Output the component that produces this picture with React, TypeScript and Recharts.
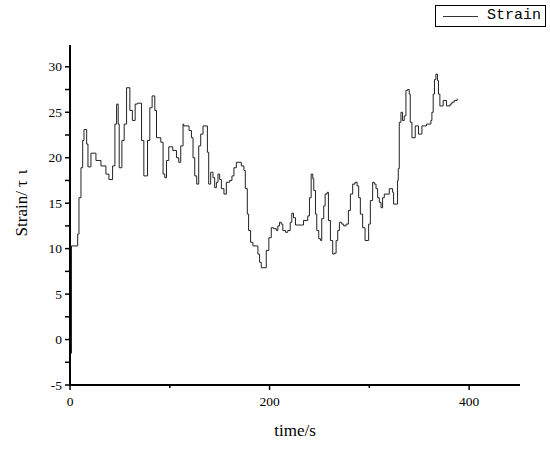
import React from 'react';
import { LineChart, Line, XAxis, YAxis } from 'recharts';

const times: number[] = [
  0, 1.5, 7.7, 9, 11, 12.7, 14, 16.7, 18, 21, 26, 31, 36, 39, 42.7, 45, 46.7, 48.3, 49.3, 52,
  54.3, 56.7, 60, 62.5, 65.3, 67.5, 71.7, 74, 77.7, 80, 82.3, 85, 86.7, 91, 93.3, 95, 96.7, 99, 103, 106.7,
  109, 111, 113.3, 114, 119.3, 121.7, 123.3, 125, 127, 129, 131, 133.3, 137.7, 139, 141, 143.3, 145, 146.7, 148.3, 150,
  151.7, 154.3, 156.7, 160, 162.3, 164.3, 166.7, 171.7, 174.3, 175.7, 177.7, 179, 181, 183.3, 186.7, 188.3, 190, 191.7, 196.7, 199.3,
  201.7, 204, 206.7, 208.3, 210, 211.7, 213.3, 216, 218.3, 220.7, 222.3, 224, 226, 231.7, 234, 238.3, 240, 241.7, 243.3, 244.3,
  246, 247.3, 249.3, 251, 252.3, 254.3, 255.7, 257.7, 259, 261, 263.3, 265, 266.7, 268.3, 270, 272.3, 274.3, 276.7, 279, 281,
  283.3, 285.7, 287.7, 289.3, 291, 293.3, 295.7, 299.3, 301, 303.3, 305, 306.7, 308.3, 310, 311.7, 313.3, 315, 320, 323.3, 324.3,
  328.3, 329, 330, 331.7, 333.3, 335, 336.7, 338.3, 340, 341, 342.7, 346, 349.3, 352.7, 357.3, 361.7, 362.7, 364, 365.3, 366.7,
  368.3, 369.3, 370.7, 374, 377.3, 381, 382.7, 385, 388,
];

const strain: number[] = [
  -1.5, 10.3, 11.6, 15.6, 18.9, 21.9, 23.1, 21.5, 19.0, 20.5, 19.7, 19.1, 18.2, 17.6, 19.1, 23.7, 25.9, 23.7, 18.9, 21.9,
  23.7, 27.7, 25.2, 24.1, 25.9, 26.0, 21.9, 18.0, 21.9, 25.5, 26.8, 25.2, 22.2, 21.7, 18.2, 17.8, 19.7, 21.2, 20.8, 20.0,
  19.5, 21.3, 23.7, 23.5, 23.0, 22.2, 20.0, 18.0, 17.1, 21.3, 22.6, 23.5, 20.6, 17.1, 18.4, 17.8, 16.7, 17.3, 18.2, 17.6,
  16.6, 16.0, 17.3, 17.5, 18.0, 18.9, 19.5, 19.1, 18.6, 16.6, 13.8, 12.0, 10.7, 10.3, 10.3, 9.4, 8.5, 7.9, 9.8, 11.2,
  12.3, 12.2, 12.0, 12.5, 12.9, 12.7, 12.0, 11.8, 12.0, 12.9, 13.9, 13.4, 12.6, 12.6, 13.1, 13.6, 15.6, 18.2, 17.7, 16.4,
  13.8, 12.0, 11.1, 10.9, 13.3, 14.7, 16.0, 16.2, 13.1, 10.9, 9.4, 9.5, 10.9, 12.0, 12.9, 12.7, 12.5, 12.7, 14.2, 16.0,
  17.1, 17.3, 16.9, 15.6, 13.8, 12.3, 10.9, 12.7, 15.3, 17.3, 17.1, 16.6, 15.6, 15.1, 14.5, 15.6, 16.0, 16.6, 16.2, 14.9,
  17.5, 18.8, 23.9, 25.0, 24.1, 24.6, 27.4, 27.5, 27.0, 23.9, 22.2, 23.5, 22.6, 23.5, 23.7, 24.1, 25.0, 27.0, 28.6, 29.2,
  28.5, 27.0, 25.7, 26.3, 25.7, 25.9, 26.1, 26.3, 26.5,
];

const xTicks: number[] = [0, 100, 200, 300, 400];
const xLabeled: number[] = [0, 200, 400];
const yTicks: number[] = [-5, -2.5, 0, 2.5, 5, 7.5, 10, 12.5, 15, 17.5, 20, 22.5, 25, 27.5, 30];
const yLabeled: number[] = [-5, 0, 5, 10, 15, 20, 25, 30];

const seriesName = 'Strain';
const xTitle = 'time/s';
const yTitleLatin = 'Strain/';
const yTitleGreek: string[] = ['\u03c4', '\u03b9'];

const data = times.map((t, i) => ({ t, v: strain[i] }));

const TICK_SIZE = 5;
const TICK_MARGIN = 4;
const FONT = "'Liberation Serif', 'Times New Roman', serif";
const textStyle: React.CSSProperties = { fontFamily: FONT };

const XTick = (props: any) => {
  const { x, y, payload } = props;
  const v = payload.value;
  const major = xLabeled.includes(v);
  const axisY = y - TICK_SIZE - TICK_MARGIN;
  return (
    <g>
      <line x1={x} x2={x} y1={axisY} y2={axisY + (major ? 5 : 3)} stroke="#000" strokeWidth={1.5} />
      {major && (
        <text x={x} y={axisY + 21} textAnchor="middle" style={{ ...textStyle, fontSize: 13.5 }} fill="#000">
          {v}
        </text>
      )}
    </g>
  );
};

const YTick = (props: any) => {
  const { x, y, payload } = props;
  const v = payload.value;
  const major = yLabeled.includes(v);
  const axisX = x + TICK_SIZE + TICK_MARGIN;
  return (
    <g>
      <line x1={axisX - 5} x2={axisX} y1={y} y2={y} stroke="#000" strokeWidth={1.5} />
      {major && (
        <text x={axisX - 8} y={y + 4.5} textAnchor="end" style={{ ...textStyle, fontSize: 13.5 }} fill="#000">
          {v}
        </text>
      )}
    </g>
  );
};

const LegendBox = () => (
  <div
    style={{
      position: 'absolute',
      left: 435,
      top: 5,
      width: 109,
      height: 20,
      border: '1px solid #000',
      background: '#fff',
      display: 'flex',
      alignItems: 'center',
    }}
  >
    <div style={{ width: 35, height: 1, background: '#333', marginLeft: 7 }} />
    <span
      style={{
        marginLeft: 9,
        fontFamily: "'Liberation Mono', 'DejaVu Sans Mono', monospace",
        fontSize: 15,
        color: '#000',
        lineHeight: '20px',
      }}
    >
      {seriesName}
    </span>
  </div>
);

export default function App() {
  return (
    <div style={{ position: 'absolute', left: 0, top: 0, width: 550, height: 449, background: '#fff' }}>
      <LineChart width={550} height={449} data={data} margin={{ top: 45, right: 30, bottom: 34, left: 30 }}>
        <XAxis
          dataKey="t"
          type="number"
          domain={[0, 451]}
          ticks={xTicks}
          allowDataOverflow
          height={30}
          tickSize={TICK_SIZE}
          tickMargin={TICK_MARGIN}
          tickLine={false}
          axisLine={{ stroke: '#000', strokeWidth: 2 }}
          tick={<XTick />}
          interval={0}
          label={({ viewBox }: any) => (
            <text
              x={viewBox.x + viewBox.width / 2}
              y={viewBox.y + 51}
              textAnchor="middle"
              style={{ ...textStyle, fontSize: 17 }}
              fill="#000"
            >
              {xTitle}
            </text>
          )}
        />
        <YAxis
          type="number"
          domain={[-5, 32.4]}
          ticks={yTicks}
          allowDataOverflow
          width={40}
          tickSize={TICK_SIZE}
          tickMargin={TICK_MARGIN}
          tickLine={false}
          axisLine={{ stroke: '#000', strokeWidth: 2 }}
          tick={<YTick />}
          interval={0}
          label={({ viewBox }: any) => (
            <text
              x={viewBox.x - 9}
              y={203}
              transform={`rotate(-90 ${viewBox.x - 9} 203)`}
              textAnchor="middle"
              dominantBaseline="central"
              style={{ ...textStyle, fontSize: 17 }}
              fill="#000"
            >
              {yTitleLatin}
              <tspan dx={4}>{yTitleGreek[0]}</tspan>
              <tspan dx={6}>{yTitleGreek[1]}</tspan>
            </text>
          )}
        />
        <Line
          type="stepAfter"
          dataKey="v"
          name={seriesName}
          stroke="#222"
          strokeWidth={1}
          dot={false}
          isAnimationActive={false}
        />
      </LineChart>
      <LegendBox />
    </div>
  );
}
